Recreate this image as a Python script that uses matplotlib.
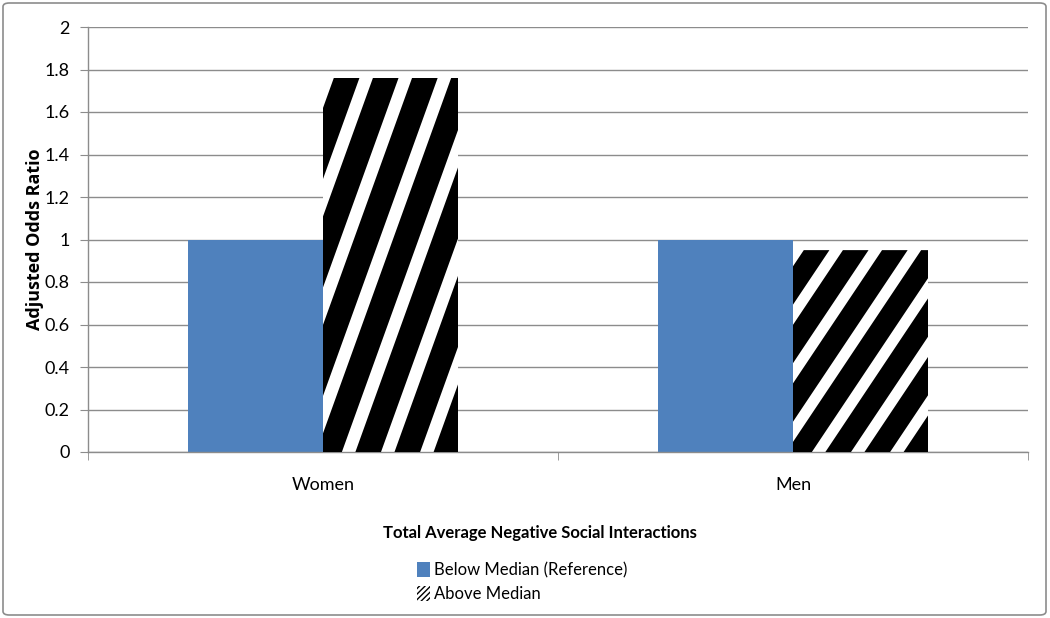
import matplotlib
matplotlib.use("Agg")
import matplotlib.pyplot as plt
import matplotlib.patches as mpatches
from matplotlib.ticker import FixedLocator
import numpy as np

# data
groups = ['Women', 'Men']
below_median = [1.0, 1.0]
above_median = [1.76, 0.95]
series_names = ['Below Median (Reference)', 'Above Median']
yticks = [0, 0.2, 0.4, 0.6, 0.8, 1, 1.2, 1.4, 1.6, 1.8, 2]
ytick_labels = ['0', '0.2', '0.4', '0.6', '0.8', '1', '1.2', '1.4', '1.6', '1.8', '2']

blue = '#4F81BD'
grid_gray = '#8C8C8C'
narrow = ['Lato', 'DejaVu Sans']

fig = plt.figure(figsize=(10.5, 6.18), dpi=100)
ax = fig.add_axes([88 / 1050, 1 - 452 / 618, 940 / 1050, 425 / 618])

x = np.arange(len(groups))
w = 0.287
bars_below = ax.bar(x - w / 2, below_median, w, color=blue, zorder=2)
bars_above = ax.bar(x + w / 2, above_median, w, color='white', zorder=2)


def stripe_bar(bar):
    # diagonal black stripes stretched over the bar, like the excel pattern fill
    bx, by = bar.get_x(), bar.get_y()
    bw, bh = bar.get_width(), bar.get_height()
    period = 0.29
    band = 0.19
    for k in range(-6, 6):
        c = 0.24 + k * period
        uv = [(c, 0), (c + band, 0), (c + band + 1, 1), (c + 1, 1)]
        pts = [(bx + u * bw, by + v * bh) for u, v in uv]
        poly = mpatches.Polygon(pts, closed=True, facecolor='black',
                                edgecolor='none', zorder=3)
        ax.add_patch(poly)
        poly.set_clip_path(bar)


for b in bars_above:
    stripe_bar(b)

ax.set_xlim(-0.5, 1.5)
ax.set_ylim(0, 2)
ax.set_yticks(yticks)
ax.set_yticklabels(ytick_labels, fontsize=13, family=narrow)
ax.set_xticks(x)
ax.set_xticklabels(groups, fontsize=13, family=narrow)
ax.xaxis.set_minor_locator(FixedLocator([-0.5, 0.5, 1.5]))
ax.tick_params(axis='x', which='major', length=0, pad=18)
ax.tick_params(axis='x', which='minor', length=6, color=grid_gray, direction='out')
ax.tick_params(axis='y', length=6, color=grid_gray, pad=7)

ax.yaxis.grid(True, color=grid_gray, linewidth=1.0)
ax.set_axisbelow(True)
for s in ['top', 'right']:
    ax.spines[s].set_visible(False)
for s in ['left', 'bottom']:
    ax.spines[s].set_color(grid_gray)
    ax.spines[s].set_linewidth(1.0)

ax.set_ylabel('Adjusted Odds Ratio', fontsize=13, fontweight='bold',
              family=['Open Sans', 'DejaVu Sans'], va='center')
ax.yaxis.set_label_coords(-53 / 940, 0.5)
ax.set_xlabel('Total Average Negative Social Interactions', fontsize=12,
              fontweight='bold', family=narrow, va='center')
ax.xaxis.set_label_coords(0.4813, -81 / 425)

handles = [mpatches.Patch(facecolor=blue, edgecolor='none'),
           mpatches.Patch(facecolor='white', edgecolor='black', hatch='//////', linewidth=0)]
fig.legend(handles, series_names, loc='upper left',
           bbox_to_anchor=(417 / 1050, 1 - 562 / 618), frameon=False,
           prop={'family': narrow, 'size': 12}, borderpad=0, borderaxespad=0,
           handlelength=0.8, handleheight=1.05, handletextpad=0.25, labelspacing=0.45)

border = mpatches.FancyBboxPatch((3 / 1050, 3 / 618), 1043 / 1050, 612 / 618,
                                 boxstyle='round,pad=0,rounding_size=0.006',
                                 transform=fig.transFigure, fill=False,
                                 edgecolor='#8C8C8C', linewidth=1.2)
fig.patches.append(border)

fig.savefig('out.png', dpi=100)
